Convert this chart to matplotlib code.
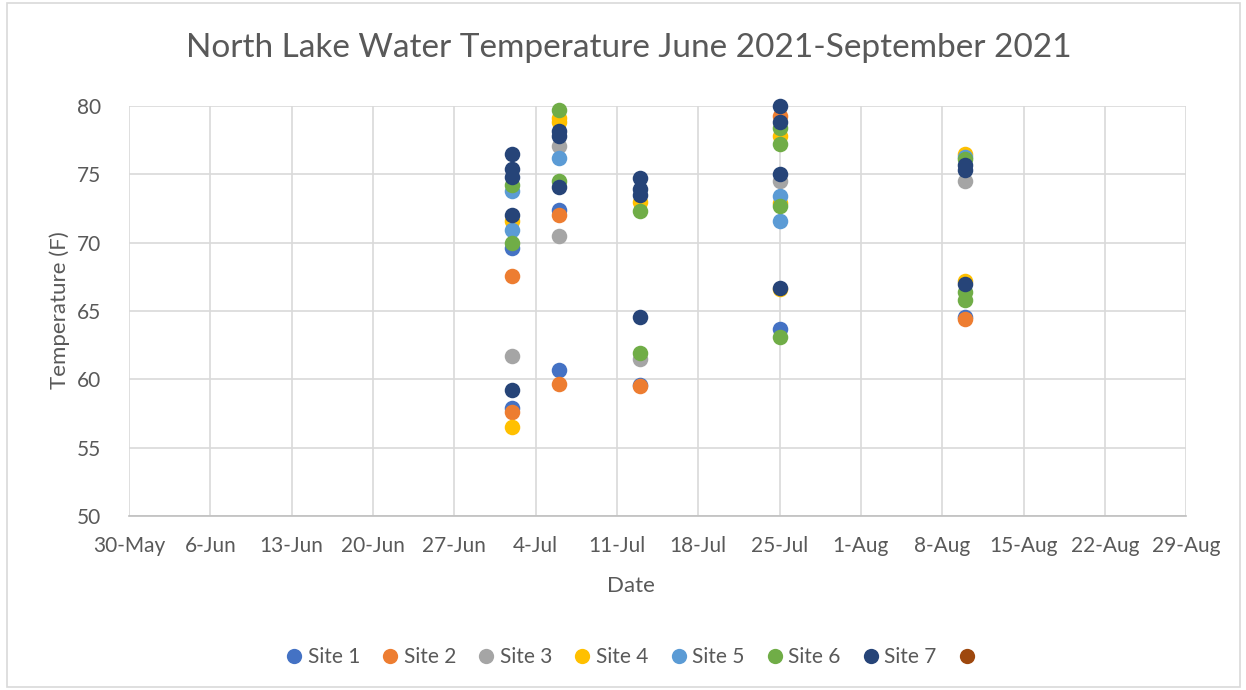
import datetime as dt
import matplotlib
matplotlib.use("Agg")
import matplotlib.pyplot as plt
import matplotlib.dates as mdates
from matplotlib.patches import Rectangle
from matplotlib.lines import Line2D

plt.rcParams['font.family'] = ['Lato', 'DejaVu Sans']

# sampling dates and the readings per site (several depths per visit)
dates = ["2021-07-02", "2021-07-06", "2021-07-13", "2021-07-25", "2021-08-10"]
site1 = [[69.6, 57.9], [72.4, 60.7], [59.6], [63.7], [64.6]]
site2 = [[67.6, 57.6], [72.0, 59.7], [59.5], [79.3], [64.4]]
site3 = [[61.7], [77.1, 70.5], [61.5], [74.5], [74.5]]
site4 = [[71.6, 56.5], [79.1, 78.8], [73.0], [77.8, 72.9, 66.6], [76.5, 67.2]]
site5 = [[73.8, 70.9], [76.2], [], [73.4, 71.6], [76.3]]
site6 = [[74.2, 70.0], [79.7, 74.5], [72.3, 61.9], [78.4, 77.2, 72.7, 63.1], [76.1, 66.4, 65.8]]
site7 = [[76.5, 75.4, 74.8, 72.0, 59.2], [78.2, 77.8, 74.1], [74.7, 73.9, 73.5, 64.6],
         [80.0, 78.8, 75.0, 66.7], [75.7, 75.3, 67.0]]
site8 = [[], [], [], [], []]

sites = [site1, site2, site3, site4, site5, site6, site7, site8]
labels = ["Site 1", "Site 2", "Site 3", "Site 4", "Site 5", "Site 6", "Site 7", ""]
colors = ["#4472C4", "#ED7D31", "#A5A5A5", "#FFC000", "#5B9BD5", "#70AD47", "#264478", "#9E480E"]

text_col = "#595959"
day = [dt.datetime.strptime(d, "%Y-%m-%d") for d in dates]

fig = plt.figure(figsize=(12.46, 6.9), dpi=100)
ax = fig.add_axes([0.1035, 0.252, 0.8485, 0.5944])

for vals, col in zip(sites, colors):
    xs, ys = [], []
    for d, v in zip(day, vals):
        for t in v:
            xs.append(d)
            ys.append(t)
    if xs:
        ax.scatter(xs, ys, s=125, color=col, zorder=3, linewidths=0, clip_on=False)

ax.set_xlim(dt.datetime(2021, 5, 30), dt.datetime(2021, 8, 29))
ax.set_ylim(50, 80)
ax.set_yticks(range(50, 81, 5))
ax.set_xticks([dt.datetime(2021, 5, 30) + dt.timedelta(days=7 * i) for i in range(14)])
ax.xaxis.set_major_formatter(plt.FuncFormatter(
    lambda x, p: "%d-%s" % (mdates.num2date(x).day, mdates.num2date(x).strftime("%b"))))

ax.grid(True, color="#D9D9D9", linewidth=1.2, zorder=0)
ax.set_axisbelow(True)
for s in ["top", "right", "left"]:
    ax.spines[s].set_visible(False)
ax.spines["bottom"].set_color("#BFBFBF")
ax.spines["bottom"].set_linewidth(1.2)
ax.tick_params(length=0, labelsize=15, colors=text_col)
ax.tick_params(axis="x", pad=14)
ax.tick_params(axis="y", pad=20)

fig.text(0.505, 0.930, "North Lake Water Temperature June 2021-September 2021",
         ha="center", va="center", fontsize=24, color=text_col)
fig.text(0.506, 0.151, "Date", ha="center", va="center", fontsize=16, color=text_col)
fig.text(0.048, 0.55, "Temperature (F)", ha="center", va="center", rotation=90,
         fontsize=16, color=text_col)

handles = [Line2D([], [], marker="o", linestyle="", markersize=11, color=c,
                  markeredgewidth=0) for c in colors]
leg = fig.legend(handles, labels, loc="center", bbox_to_anchor=(0.506, 0.048), ncol=8,
                 frameon=False, fontsize=15, handletextpad=0.0, columnspacing=0.8,
                 handlelength=1.3)
for t in leg.get_texts():
    t.set_color(text_col)

fig.add_artist(Rectangle((0.006, 0.004), 0.989, 0.992, transform=fig.transFigure,
                         fill=False, edgecolor="#D9D9D9", linewidth=1.2))

fig.savefig("out.png", dpi=100)
